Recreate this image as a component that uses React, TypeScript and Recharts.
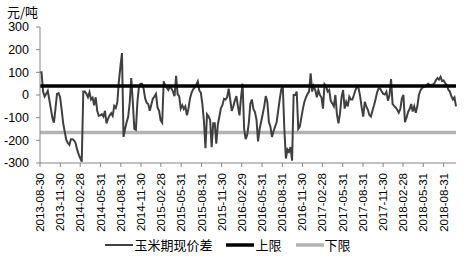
import React from "react";
import {
  LineChart, Line, XAxis, YAxis, Legend,
} from "recharts";

const SERIES_NAME = "玉米期现价差";
const UPPER_NAME = "上限";
const LOWER_NAME = "下限";
const UNIT = "元/吨";

const START_DATE = "2013-08-30";
const WEEK_MS = 7 * 24 * 3600 * 1000;

// weekly spread values, from 2013-08-30
const spread = [
  100, 100, 15, -7, 5, 18, -20, -60, -100, -122, -60, 5, 8, -10, -65, -125,
  -162, -198, -212, -220, -195, -195, -200, -212, -240, -262, -278, -294, 15, 15,
  5, -10, 12, -20, -12, -45, -10, -70, -92, -90, -85, -95, -70, -125, -105, -90,
  -80, -92, -48, -57, -32, 60, 125, 185, -185, -150, -120, -97, -35, 75, -30,
  -150, -154, -30, 38, 50, 50, 28, -15, -35, -40, -70, -42, -15, -7, 5, -55,
  -70, -112, -122, 60, 40, 32, 22, 38, 28, 15, -5, 85,
  2, -5, -60, -45, -62, -50, -90, -60, -15, 10, 25, 32, 45, 60, 20, 10, -40,
  -115, -235, -85, -95, -110, -230, -125, -125, -215, -130, -95, -58, -44, -17,
  -20, -10, 28, -20, -70, -50, -25, -5, -50, -90, -10, 50,
  -150, -195, -175, -125, -40, -20, -62, -75, -110, -205, -150, -118, -85, -50,
  -5, -30, -118, -140, -185, -160, -140, -120, -70, -20, 25, 40, -150, -280,
  -240, -250, -230, -290, 0, 0, 15, -150, -140, -100, -60, -30, -10, 5, 15, 96,
  15, 40,
  22, -10, 22, 0, -10, -60, 48, 40, 15, 22, -25, -37, -50, 0, -85, -125, -80,
  -10, 22, -60, -30, -50, -8, -20, -20, 0, 22, 37, 30, -5, -55, -95, -30, -50,
  -65, -88, -95, -68, -45, -18, 12, 30, 28, 15,
  5, 2, 14, -25, 0, 70, -40, -48, -55, -65, -78, -62, -15, 0, -120, -100, -75,
  -62, -40, -73, -50, -78, -50, 0, 20, 30, 36, 37, 44, 50, 45, 44, 46, 51, 65,
  75, 68, 80, 62, 64, 52, 45, 24, 15, -5, -20, -10, -50,
];

const upperLimit = 40;
const lowerLimit = -165;

const tickDates = [
  "2013-08-30", "2013-11-30", "2014-02-28", "2014-05-31", "2014-08-31",
  "2014-11-30", "2015-02-28", "2015-05-31", "2015-08-31", "2015-11-30",
  "2016-02-29", "2016-05-31", "2016-08-31", "2016-11-30", "2017-02-28",
  "2017-05-31", "2017-08-31", "2017-11-30", "2018-02-28", "2018-05-31",
  "2018-08-31",
];

const yTicks = [-300, -200, -100, 0, 100, 200, 300];

const FONT = "'Liberation Sans', 'Noto Sans CJK SC', sans-serif";
const AXIS_COLOR = "#868686";
const SPREAD_COLOR = "#404040";
const UPPER_COLOR = "#000000";
const LOWER_COLOR = "#b3b3b3";

const startMs = new Date(START_DATE).getTime();
const data = spread.map((v, i) => ({
  t: startMs + i * WEEK_MS,
  spread: v,
  upper: upperLimit,
  lower: lowerLimit,
}));
const xTicks = tickDates.map((d) => new Date(d).getTime());

function fmtDate(ms: number) {
  return new Date(ms).toISOString().slice(0, 10);
}

function DateTick({ x, y, payload }: any) {
  return (
    <g transform={`translate(${x},${y})`}>
      <text
        x={-4}
        y={0}
        dy="0.35em"
        transform="rotate(-90)"
        textAnchor="end"
        fontSize={11.5}
        fontFamily={FONT}
        fill="#000"
      >
        {fmtDate(payload.value)}
      </text>
    </g>
  );
}

const legendItems = [
  { name: SERIES_NAME, color: SPREAD_COLOR, width: 2 },
  { name: UPPER_NAME, color: UPPER_COLOR, width: 3.5 },
  { name: LOWER_NAME, color: LOWER_COLOR, width: 3.5 },
];

function LegendContent() {
  return (
    <div
      style={{
        display: "flex",
        justifyContent: "center",
        alignItems: "center",
        height: 20,
        fontFamily: "'Noto Sans CJK SC', sans-serif",
        fontSize: 13,
        color: "#000",
      }}
    >
      {legendItems.map((item) => (
        <div key={item.name} style={{ display: "flex", alignItems: "center", margin: "0 7px" }}>
          <svg width={28} height={8} style={{ marginRight: 1 }}>
            <line x1={0} x2={28} y1={4} y2={4} stroke={item.color} strokeWidth={item.width} />
          </svg>
          <span style={{ lineHeight: "20px" }}>{item.name}</span>
        </div>
      ))}
    </div>
  );
}

export default function App() {
  return (
    <div style={{ position: "absolute", left: 0, top: 0, width: 467, height: 257, background: "#fff" }}>
      <div
        style={{
          position: "absolute",
          left: 7,
          top: 5,
          fontSize: 13,
          lineHeight: "13px",
          fontFamily: "'Noto Sans CJK SC', sans-serif",
          color: "#000",
        }}
      >
        {UNIT}
      </div>
      <LineChart
        width={467}
        height={257}
        data={data}
        margin={{ top: 27, right: 11, left: 0, bottom: 2 }}
      >
        <XAxis
          dataKey="t"
          type="number"
          domain={[data[0].t, data[data.length - 1].t]}
          ticks={xTicks}
          interval={0}
          tick={<DateTick />}
          height={72}
          tickSize={4}
          tickMargin={2}
          stroke={AXIS_COLOR}
          axisLine={{ stroke: AXIS_COLOR }}
        />
        <YAxis
          type="number"
          domain={[-300, 300]}
          ticks={yTicks}
          interval={0}
          width={40}
          tickSize={4}
          tickMargin={7}
          stroke={AXIS_COLOR}
          tick={{ fill: "#000", fontSize: 12.5, fontFamily: FONT }}
          allowDataOverflow
        />
        <Legend verticalAlign="bottom" content={<LegendContent />} />
        <Line
          type="linear"
          dataKey="lower"
          name={LOWER_NAME}
          stroke={LOWER_COLOR}
          strokeWidth={3.5}
          dot={false}
          isAnimationActive={false}
        />
        <Line
          type="linear"
          dataKey="spread"
          name={SERIES_NAME}
          stroke={SPREAD_COLOR}
          strokeWidth={2}
          dot={false}
          isAnimationActive={false}
        />
        <Line
          type="linear"
          dataKey="upper"
          name={UPPER_NAME}
          stroke={UPPER_COLOR}
          strokeWidth={3.5}
          dot={false}
          isAnimationActive={false}
        />
      </LineChart>
    </div>
  );
}
